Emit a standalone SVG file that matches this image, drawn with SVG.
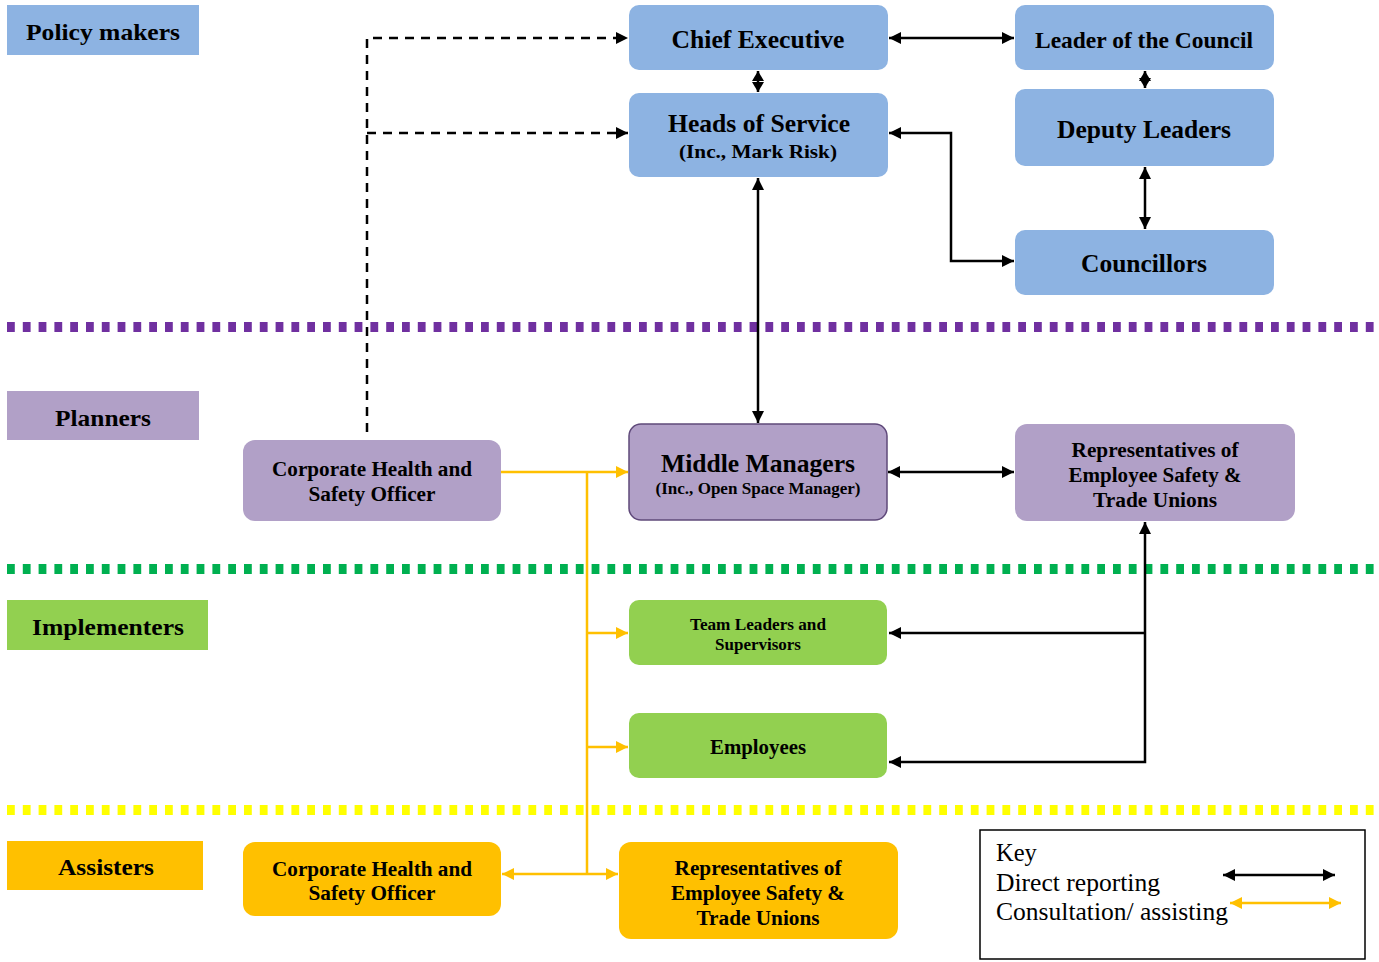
<svg xmlns="http://www.w3.org/2000/svg" width="1379" height="962" viewBox="0 0 1379 962">
<style>
.t{font-family:"Liberation Serif","Times New Roman",serif;font-weight:bold;fill:#000;text-anchor:middle}
.k{font-family:"Liberation Serif","Times New Roman",serif;font-size:24.5px;fill:#000}
.blue{fill:#8db3e2}
.purp{fill:#b1a0c7}
.green{fill:#92d050}
.amb{fill:#ffc000}
.blk{stroke:#000;stroke-width:2.5;fill:none}
.yel{stroke:#ffc000;stroke-width:2.5;fill:none}
.dash{stroke:#000;stroke-width:2.5;fill:none;stroke-dasharray:9 7}
.sep{stroke-width:10;stroke-dasharray:7.8 8}
</style>
<defs>
<marker id="ab" markerUnits="userSpaceOnUse" markerWidth="13" markerHeight="12" refX="12" refY="6" orient="auto-start-reverse"><path d="M0,0 L12,6 L0,12 z" fill="#000"/></marker>
<marker id="ay" markerUnits="userSpaceOnUse" markerWidth="13" markerHeight="12" refX="12" refY="6" orient="auto-start-reverse"><path d="M0,0 L12,6 L0,12 z" fill="#ffc000"/></marker>
<marker id="as" markerUnits="userSpaceOnUse" markerWidth="11" markerHeight="12" refX="10" refY="6" orient="auto-start-reverse"><path d="M0,0 L10,6 L0,12 z" fill="#000"/></marker>
</defs>
<rect width="1379" height="962" fill="#fff"/>

<g id="separators">
<line class="sep" x1="7" y1="327" x2="1379" y2="327" stroke="#7030a0"/>
<line class="sep" x1="7" y1="569" x2="1379" y2="569" stroke="#00b050"/>
<line class="sep" x1="7" y1="810" x2="1379" y2="810" stroke="#ffff00"/>
</g>

<g id="lbl-policy"><rect class="blue" x="7" y="5" width="192" height="50"/><text class="t" x="103" y="40" font-size="24" textLength="154" lengthAdjust="spacingAndGlyphs">Policy makers</text></g>
<g id="lbl-planners"><rect class="purp" x="7" y="391" width="192" height="49"/><text class="t" x="103" y="426" font-size="24" textLength="96" lengthAdjust="spacingAndGlyphs">Planners</text></g>
<g id="lbl-implementers"><rect class="green" x="7" y="600" width="201" height="50"/><text class="t" x="108" y="635" font-size="24" textLength="152" lengthAdjust="spacingAndGlyphs">Implementers</text></g>
<g id="lbl-assisters"><rect class="amb" x="7" y="841" width="196" height="49"/><text class="t" x="106" y="875" font-size="24" textLength="96" lengthAdjust="spacingAndGlyphs">Assisters</text></g>

<g id="chief-exec"><rect class="blue" x="629" y="5" width="259" height="65" rx="10"/><text class="t" x="758" y="48" font-size="25" textLength="173" lengthAdjust="spacingAndGlyphs">Chief Executive</text></g>
<g id="leader"><rect class="blue" x="1015" y="5" width="259" height="65" rx="10"/><text class="t" x="1144" y="48" font-size="23" textLength="218" lengthAdjust="spacingAndGlyphs">Leader of the Council</text></g>
<g id="heads"><rect class="blue" x="629" y="93" width="259" height="84" rx="10"/><text class="t" x="759" y="132" font-size="25" textLength="182" lengthAdjust="spacingAndGlyphs">Heads of Service</text><text class="t" x="758" y="158" font-size="19" textLength="158" lengthAdjust="spacingAndGlyphs">(Inc., Mark Risk)</text></g>
<g id="deputy"><rect class="blue" x="1015" y="89" width="259" height="77" rx="10"/><text class="t" x="1144" y="138" font-size="25" textLength="174" lengthAdjust="spacingAndGlyphs">Deputy Leaders</text></g>
<g id="councillors"><rect class="blue" x="1015" y="230" width="259" height="65" rx="10"/><text class="t" x="1144" y="272" font-size="25" textLength="126" lengthAdjust="spacingAndGlyphs">Councillors</text></g>

<g id="chso-planner"><rect class="purp" x="243" y="440" width="258" height="81" rx="12"/><text class="t" x="372" y="476" font-size="20" textLength="200" lengthAdjust="spacingAndGlyphs">Corporate Health and</text><text class="t" x="372" y="501" font-size="20" textLength="127" lengthAdjust="spacingAndGlyphs">Safety Officer</text></g>
<g id="middle"><rect class="purp" x="629" y="424" width="258" height="96" rx="12" stroke="#5f497a" stroke-width="1.5"/><text class="t" x="758" y="472" font-size="25" textLength="194" lengthAdjust="spacingAndGlyphs">Middle Managers</text><text class="t" x="758" y="494" font-size="16" textLength="205" lengthAdjust="spacingAndGlyphs">(Inc., Open Space Manager)</text></g>
<g id="reps-planner"><rect class="purp" x="1015" y="424" width="280" height="97" rx="12"/><text class="t" x="1155" y="457" font-size="20" textLength="167" lengthAdjust="spacingAndGlyphs">Representatives of</text><text class="t" x="1155" y="482" font-size="20" textLength="173" lengthAdjust="spacingAndGlyphs">Employee Safety &amp;</text><text class="t" x="1155" y="507" font-size="20" textLength="124" lengthAdjust="spacingAndGlyphs">Trade Unions</text></g>

<g id="team-leaders"><rect class="green" x="629" y="600" width="258" height="65" rx="10"/><text class="t" x="758" y="630" font-size="16" textLength="136" lengthAdjust="spacingAndGlyphs">Team Leaders and</text><text class="t" x="758" y="650" font-size="16" textLength="86" lengthAdjust="spacingAndGlyphs">Supervisors</text></g>
<g id="employees"><rect class="green" x="629" y="713" width="258" height="65" rx="10"/><text class="t" x="758" y="754" font-size="21" textLength="96" lengthAdjust="spacingAndGlyphs">Employees</text></g>

<g id="chso-assister"><rect class="amb" x="243" y="842" width="258" height="74" rx="12"/><text class="t" x="372" y="876" font-size="20" textLength="200" lengthAdjust="spacingAndGlyphs">Corporate Health and</text><text class="t" x="372" y="900" font-size="20" textLength="127" lengthAdjust="spacingAndGlyphs">Safety Officer</text></g>
<g id="reps-assister"><rect class="amb" x="619" y="842" width="279" height="97" rx="12"/><text class="t" x="758" y="875" font-size="20" textLength="167" lengthAdjust="spacingAndGlyphs">Representatives of</text><text class="t" x="758" y="900" font-size="20" textLength="174" lengthAdjust="spacingAndGlyphs">Employee Safety &amp;</text><text class="t" x="758" y="925" font-size="20" textLength="123" lengthAdjust="spacingAndGlyphs">Trade Unions</text></g>

<g id="connectors">
<line class="blk" x1="889" y1="38" x2="1014" y2="38" marker-start="url(#ab)" marker-end="url(#ab)"/>
<line class="blk" x1="758" y1="71" x2="758" y2="92" marker-start="url(#as)" marker-end="url(#as)"/>
<line class="blk" x1="1145" y1="71" x2="1145" y2="88" marker-start="url(#as)" marker-end="url(#as)"/>
<line class="blk" x1="1145" y1="167" x2="1145" y2="229" marker-start="url(#ab)" marker-end="url(#ab)"/>
<polyline class="blk" points="889,133 951,133 951,261 1014,261" marker-start="url(#ab)" marker-end="url(#ab)"/>
<line class="blk" x1="758" y1="178" x2="758" y2="423" marker-start="url(#ab)" marker-end="url(#ab)"/>
<polyline class="dash" points="367,432 367,38 628,38" marker-end="url(#ab)"/>
<line class="dash" x1="367" y1="133" x2="628" y2="133" marker-end="url(#ab)"/>
<line class="blk" x1="888" y1="472" x2="1014" y2="472" marker-start="url(#ab)" marker-end="url(#ab)"/>
<polyline class="blk" points="1145,522 1145,762 889,762" marker-start="url(#ab)" marker-end="url(#ab)"/>
<line class="blk" x1="1145" y1="633" x2="889" y2="633" marker-end="url(#ab)"/>
<line class="yel" x1="501" y1="472" x2="628" y2="472" marker-end="url(#ay)"/>
<line class="yel" x1="587" y1="472" x2="587" y2="874"/>
<line class="yel" x1="587" y1="633" x2="628" y2="633" marker-end="url(#ay)"/>
<line class="yel" x1="587" y1="747" x2="628" y2="747" marker-end="url(#ay)"/>
<line class="yel" x1="502" y1="874" x2="618" y2="874" marker-start="url(#ay)" marker-end="url(#ay)"/>
</g>

<g id="key">
<rect x="980" y="830" width="385" height="129" fill="#fff" stroke="#000" stroke-width="1.5"/>
<text class="k" x="996" y="861">Key</text>
<text class="k" x="996" y="891" textLength="164" lengthAdjust="spacingAndGlyphs">Direct reporting</text>
<text class="k" x="996" y="920" textLength="232" lengthAdjust="spacingAndGlyphs">Consultation/ assisting</text>
<line class="blk" x1="1223" y1="875" x2="1335" y2="875" stroke-width="2" marker-start="url(#ab)" marker-end="url(#ab)"/>
<line class="yel" x1="1230" y1="903" x2="1341" y2="903" stroke-width="2" marker-start="url(#ay)" marker-end="url(#ay)"/>
</g>
</svg>
